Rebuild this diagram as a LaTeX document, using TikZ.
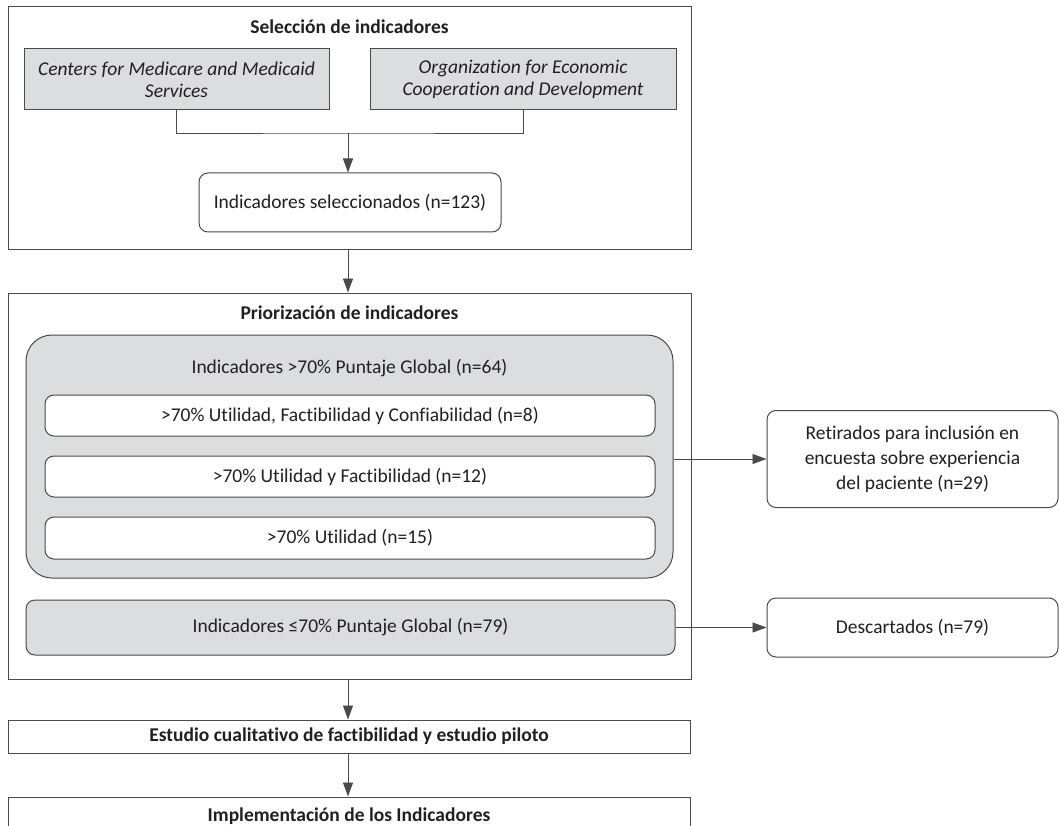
\documentclass[tikz,border=0pt]{standalone}
\usepackage{fontspec}
\setmainfont{Carlito}[Ligatures=NoCommon]
\usetikzlibrary{arrows.meta}
\definecolor{boxgray}{HTML}{DCDDDF}
\definecolor{linegray}{HTML}{4A4A4A}
\definecolor{txt}{HTML}{231F20}
\begin{document}
\begin{tikzpicture}[x=1pt,y=-1pt,
  every node/.style={inner sep=0pt, text=txt, font=\fontsize{19.5}{22}\selectfont},
  frame/.style={draw=linegray, line width=1pt},
  graybox/.style={frame, fill=boxgray},
  rbox/.style={frame, rounded corners=9pt, fill=white},
  rgray/.style={frame, rounded corners=9pt, fill=boxgray},
  ttl/.style={font=\fontsize{19.5}{22}\selectfont\bfseries},
  conn/.style={draw=linegray, line width=0.9pt},
  arr/.style={conn, -{Triangle[length=14pt,width=10pt]}}
]
\clip (0,0) rectangle (1059,826);
\fill[white] (0,0) rectangle (1059,826);

% Stage 1
\node[frame, minimum width=683pt, minimum height=242pt] (box1) at (349.5,128) {};
\node[ttl] (t1) at (349.5,27) {Selección de indicadores};
\node[graybox, minimum width=305pt, minimum height=61pt, align=center, font=\fontsize{19.5}{22}\selectfont\itshape] (cms) at (176.5,79.5) {Centers for Medicare and Medicaid\\Services};
\node[graybox, minimum width=306pt, minimum height=61pt, align=center, font=\fontsize{19.5}{22}\selectfont\itshape] (oecd) at (523,79.5) {Organization for Economic\\Cooperation and Development};
\node[rbox, minimum width=302pt, minimum height=59pt] (sel) at (350,202.5) {Indicadores seleccionados (n=123)};
\coordinate (join) at (348,133);
\draw[conn] (cms.south) |- (join) -| (oecd.south);
\draw[arr] (join) -- (join |- sel.north);

% Stage 2
\node[frame, minimum width=683pt, minimum height=386pt] (box2) at (349.5,486) {};
\node[ttl] (t2) at (349.5,313) {Priorización de indicadores};
\node[frame, fill=boxgray, rounded corners=26pt, minimum width=647pt, minimum height=243pt] (high) at (349.5,456.5) {};
\node (hightxt) at (349.5,368) {Indicadores >70\% Puntaje Global (n=64)};
\node[rbox, minimum width=610pt, minimum height=41pt] (wa) at (350,415.5) {>70\% Utilidad, Factibilidad y Confiabilidad (n=8)};
\node[rbox, minimum width=610pt, minimum height=41pt] (wb) at (350,476.5) {>70\% Utilidad y Factibilidad (n=12)};
\node[rbox, minimum width=610pt, minimum height=42pt] (wc) at (350,538) {>70\% Utilidad (n=15)};
\node[rgray, minimum width=649pt, minimum height=55pt] (low) at (350.5,627.5) {Indicadores ≤70\% Puntaje Global (n=79)};

\node[rbox, minimum width=291pt, minimum height=97pt, align=center, font=\fontsize{19.5}{25}\selectfont] (ret) at (912.5,459) {Retirados para inclusión en\\encuesta sobre experiencia\\del paciente (n=29)};
\node[rbox, minimum width=291pt, minimum height=59pt] (desc) at (912.5,627.5) {Descartados (n=79)};
\draw[arr] (high.east |- ret.west) -- (ret.west);
\draw[arr] (low.east) -- (desc.west);

\draw[arr] (box1.south -| join) -- (box2.north -| join);

% Stage 3
\node[frame, fill=white, minimum width=682pt, minimum height=33pt, ttl] (est) at (349,736.5) {Estudio cualitativo de factibilidad y estudio piloto};
\node[frame, fill=white, minimum width=682pt, minimum height=39pt, ttl] (impl) at (349,816.5) {Implementación de los Indicadores};
\draw[arr] (box2.south -| join) -- (est.north -| join);
\draw[arr] (est.south -| join) -- (impl.north -| join);
\end{tikzpicture}
\end{document}
